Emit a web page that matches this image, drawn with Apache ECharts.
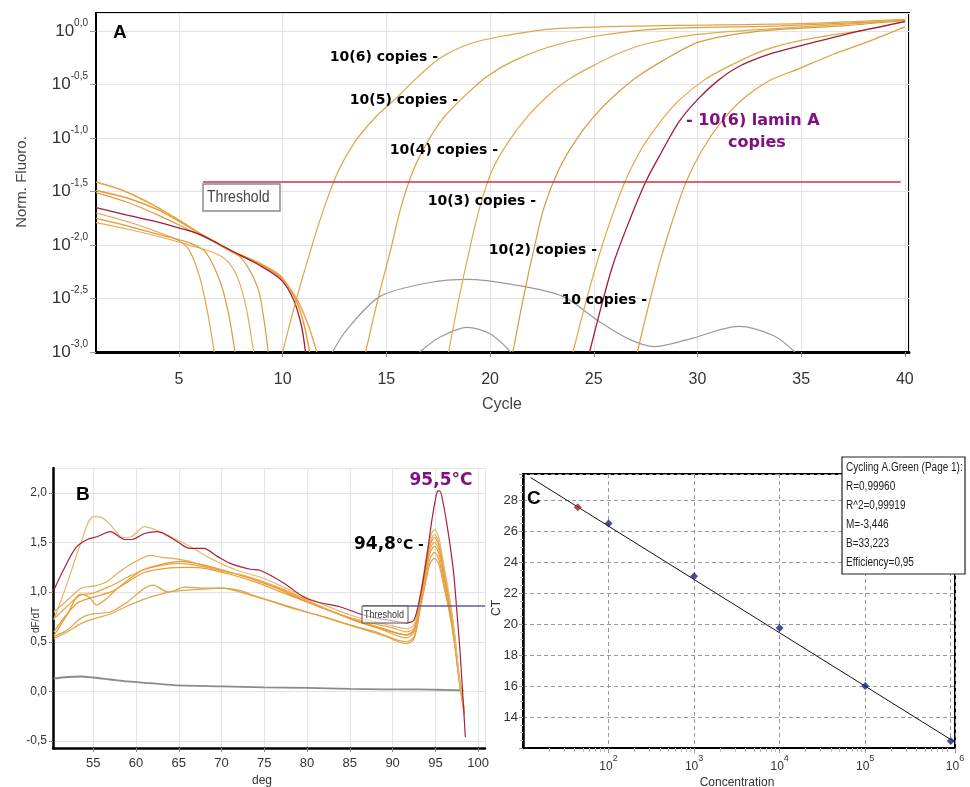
<!DOCTYPE html>
<html><head><meta charset="utf-8">
<script src="https://cdn.jsdelivr.net/npm/echarts@6/dist/echarts.min.js"></script>
<style>html,body{margin:0;padding:0;background:#fff}#c{width:970px;height:787px}</style>
</head><body><div id="c"></div>
<script>
// ===== Panel A: amplification curves, [cycle, log10(Norm. Fluoro.)] =====
const aAmp1e6 = [[10.0,-3.0],[10.6,-2.55],[11.3,-2.08],[12.0,-1.65],[12.7,-1.3],[13.5,-1.03],[14.5,-0.8],[15.5,-0.62],[16.5,-0.43],[17.6,-0.25],[19,-0.12],[20.5,-0.05],[22.9,0.02],[27.7,0.05],[34.9,0.07],[40,0.11]];
const aAmp1e5 = [[14.0,-3.0],[14.6,-2.5],[15.2,-2.05],[15.7,-1.65],[16.3,-1.3],[17.0,-1.03],[17.8,-0.8],[18.7,-0.62],[19.8,-0.43],[21.1,-0.28],[22.8,-0.15],[25,-0.05],[28,0.02],[34,0.05],[40,0.1]];
const aAmp1e4 = [[18.0,-3.0],[18.5,-2.5],[19.0,-2.05],[19.5,-1.65],[20.1,-1.3],[20.9,-1.03],[21.8,-0.8],[22.7,-0.62],[23.8,-0.45],[25.1,-0.31],[26.3,-0.2],[27.5,-0.12],[30,-0.03],[35,0.04],[40,0.1]];
const aAmp1e3 = [[21.1,-3.0],[21.6,-2.5],[22.1,-2.05],[22.6,-1.65],[23.3,-1.3],[24.1,-1.03],[25.0,-0.8],[25.9,-0.62],[27.0,-0.44],[28.3,-0.28],[30.1,-0.1],[33,0.0],[37,0.05],[40,0.1]];
const aAmp1e2 = [[24.0,-3.0],[24.5,-2.62],[25.1,-2.2],[25.7,-1.83],[26.5,-1.41],[27.3,-1.1],[28.2,-0.85],[29.1,-0.65],[30.3,-0.46],[31.6,-0.32],[33.2,-0.18],[34.9,-0.09],[38.3,0.02],[40,0.09]];
const aAmp1e1 = [[27.1,-3.0],[27.6,-2.6],[28.2,-2.15],[28.8,-1.77],[29.45,-1.41],[30.2,-1.12],[31.1,-0.86],[32.1,-0.65],[33.4,-0.47],[34.9,-0.35],[36.5,-0.22],[38.2,-0.1],[40,0.04]];
const aAmpLamin = [[24.8,-3.0],[25.3,-2.62],[25.9,-2.2],[26.6,-1.83],[27.5,-1.41],[28.3,-1.12],[29.1,-0.85],[30,-0.64],[31,-0.46],[32,-0.33],[33.4,-0.22],[34.9,-0.14],[37.8,0.0],[40,0.09]];
// early-cycle (baseline) parts of the same samples
const aBaseU1 = [[1,-1.41],[2.3,-1.49],[3.9,-1.64],[5.2,-1.79],[6,-1.89],[7.6,-2.07],[8.8,-2.17],[9.9,-2.3],[10.7,-2.51],[11.2,-2.73],[11.65,-3.0]];
const aBaseU2 = [[1,-1.49],[2.5,-1.56],[4,-1.67],[5.2,-1.8],[6,-1.89],[7.6,-2.06],[8.8,-2.16],[9.9,-2.29],[10.6,-2.5],[11,-2.72],[11.3,-3.0]];
const aBaseU3 = [[1,-1.51],[2.5,-1.6],[4,-1.72],[5.5,-1.86],[7,-2.0],[8,-2.12],[8.8,-2.4],[9.1,-2.7],[9.3,-3.0]];
const aBaseLamin = [[1,-1.65],[2.5,-1.72],[3.9,-1.78],[5,-1.84],[6,-1.9],[7.6,-2.06],[8.8,-2.18],[9.9,-2.32],[10.5,-2.5],[10.9,-2.75],[11.1,-3.0]];
const aBaseL1 = [[1,-1.70],[2.5,-1.78],[4,-1.88],[5,-1.96],[5.5,-2.05],[6,-2.3],[6.4,-2.65],[6.7,-3.0]];
const aBaseL2 = [[1,-1.75],[2.5,-1.82],[4,-1.9],[5.5,-1.98],[6.3,-2.07],[7,-2.35],[7.4,-2.65],[7.7,-3.0]];
const aBaseL3 = [[1,-1.79],[2.5,-1.85],[4,-1.92],[5.5,-2.0],[7,-2.1],[7.7,-2.25],[8.2,-2.55],[8.6,-3.0]];
// no-template controls
const aNtc1 = [[12.4,-3.0],[13.1,-2.79],[14.7,-2.48],[17.1,-2.35],[18.9,-2.32],[21.1,-2.37],[23.5,-2.48],[25.3,-2.72],[26.7,-2.88],[27.9,-2.95],[29.6,-2.88],[32,-2.76],[33.7,-2.85],[34.7,-3.0]];
const aNtc2 = [[16.6,-3.0],[17.6,-2.86],[18.9,-2.77],[20,-2.83],[21,-3.0]];
const aThreshold = [[6.16,-1.41],[39.8,-1.41]];

// ===== Panel B: melt curves, [temperature, dF/dT] =====
const bRed = [[50.4,1.02],[51.5,1.22],[53,1.45],[54.3,1.53],[55.5,1.56],[57,1.61],[58.7,1.53],[59.5,1.53],[61,1.59],[62.5,1.61],[64.8,1.51],[66.3,1.44],[67.9,1.44],[69.5,1.36],[71,1.29],[73.4,1.23],[74.5,1.22],[77.3,1.09],[79.6,0.95],[81.2,0.9],[83.9,0.85],[86.2,0.78],[88,0.74],[90,0.71],[91.7,0.69],[92.5,0.72],[93.2,0.95],[93.9,1.3],[94.6,1.73],[95.2,2.01],[95.5,2.02],[95.9,1.9],[96.5,1.6],[97.1,1.22],[97.5,0.82],[97.9,0.38],[98.5,-0.46]];
const bO1 = [[50.4,0.72],[52,1.1],[53.5,1.48],[55,1.76],[56,1.75],[57,1.68],[58.5,1.55],[59.5,1.56],[61,1.66],[62.2,1.63],[64,1.56],[66.3,1.46],[68.7,1.34],[71.8,1.22],[74.9,1.14],[78,1.02],[81.2,0.9],[85,0.77],[88,0.7],[90,0.66],[91.6,0.63],[92.5,0.67],[93.2,0.95],[93.9,1.33],[94.4,1.55],[94.9,1.63],[95.4,1.55],[96,1.27],[96.6,0.98],[97.2,0.62],[97.8,0.15],[98.4,-0.18]];
const bM1 = [[50.4,0.8],[52,0.92],[53.6,1.04],[55,1.06],[56.5,1.1],[58,1.2],[60,1.31],[61.7,1.37],[63,1.35],[64.3,1.34],[66.3,1.31],[69.5,1.22],[72.6,1.17],[75,1.1],[78,1.0],[81,0.88],[84,0.77],[87,0.7],[90,0.64],[91.6,0.6],[92.5,0.64],[93.2,0.93],[93.9,1.3],[94.4,1.51],[94.9,1.58],[95.4,1.5],[96,1.23],[96.6,0.95],[97.2,0.6],[97.8,0.14],[98.4,-0.19]];
const bM2 = [[50.4,0.56],[52,0.78],[53.5,0.98],[54.5,0.95],[55.4,0.87],[56.5,0.93],[58,1.05],[60,1.18],[61,1.23],[63,1.28],[65.2,1.31],[68.1,1.27],[71,1.2],[74,1.12],[77,1.02],[80,0.9],[83,0.8],[86,0.7],[89,0.62],[91.6,0.57],[92.5,0.62],[93.2,0.91],[93.9,1.27],[94.4,1.48],[94.9,1.55],[95.4,1.47],[96,1.2],[96.6,0.93],[97.2,0.58],[97.8,0.13],[98.4,-0.2]];
const bM3 = [[50.4,0.73],[52,0.86],[53.5,0.97],[55,0.99],[57,1.06],[59,1.15],[61,1.23],[63,1.27],[65,1.29],[67,1.27],[70,1.22],[73,1.15],[76,1.06],[79,0.95],[82,0.84],[85,0.74],[88,0.65],[91.6,0.54],[92.5,0.6],[93.2,0.89],[93.9,1.24],[94.4,1.44],[94.9,1.5],[95.4,1.43],[96,1.17],[96.6,0.9],[97.2,0.56],[97.8,0.12],[98.4,-0.21]];
const bM4 = [[50.4,0.6],[53,0.88],[55,0.95],[57,1.0],[59,1.1],[61,1.2],[63.5,1.24],[66,1.25],[68,1.24],[71,1.18],[74,1.1],[77,1.0],[80,0.9],[83,0.8],[86,0.71],[89,0.63],[91.6,0.57],[92.5,0.61],[93.2,0.88],[93.9,1.21],[94.4,1.4],[94.9,1.46],[95.4,1.39],[96,1.14],[96.6,0.88],[97.2,0.55],[97.8,0.11],[98.4,-0.22]];
const bL1 = [[50.4,0.55],[52,0.62],[53.6,0.74],[55,0.78],[57,0.8],[59,0.9],[61,1.04],[62,1.07],[63.8,1.0],[65.7,1.05],[68,1.04],[70,1.04],[73.4,0.97],[76,0.9],[79,0.82],[82,0.75],[85,0.67],[88,0.6],[91.6,0.5],[92.5,0.55],[93.2,0.84],[93.9,1.16],[94.4,1.34],[94.9,1.4],[95.4,1.33],[96,1.09],[96.6,0.84],[97.2,0.52],[97.8,0.1],[98.4,-0.23]];
const bL2 = [[50.4,0.53],[52,0.6],[53.5,0.68],[55,0.73],[57,0.78],[59,0.86],[61,0.93],[63.8,1.0],[66,1.02],[68,1.03],[70,1.04],[72,1.02],[74,0.96],[77,0.88],[80,0.8],[83,0.72],[86,0.64],[89,0.56],[91.6,0.48],[92.5,0.53],[93.2,0.81],[93.9,1.11],[94.4,1.29],[94.9,1.34],[95.4,1.28],[96,1.05],[96.6,0.81],[97.2,0.5],[97.8,0.09],[98.4,-0.24]];
const bNtc = [[50.4,0.13],[52,0.145],[53.5,0.15],[55,0.14],[57,0.12],[59,0.1],[62,0.08],[65,0.06],[70,0.05],[75,0.04],[80,0.035],[85,0.025],[90,0.02],[93,0.02],[96,0.015],[98.3,0.01]];
const bThreshold = [[86.5,0.86],[100.8,0.86]];

// ===== Panel C: standard curve, [log10(concentration), CT] =====
const cStandards = [[2,26.5],[3,23.1],[4,19.75],[5,16.0],[6,12.45]];
const cSample = [[1.64,27.55]];
const cSlopeM = -3.446;
const cInterceptB = 33.223;
const cFitRange = [1.09, 6.05];
const cStatsLines = ['Cycling A.Green (Page 1):','R=0,99960','R^2=0,99919','M=-3,446','B=33,223','Efficiency=0,95'];

const cFit = cFitRange.map(x => [x, cInterceptB + cSlopeM * x]);

const SANS = "'Liberation Sans', Arial, sans-serif";
const BOLD = "'DejaVu Sans', Verdana, sans-serif";
const comma = v => String(v).replace('.', ',');

function ln(data, color, xi, yi, w, z) {
  return {type:'line', data, xAxisIndex:xi, yAxisIndex:yi, symbol:'none', smooth:0.3,
    lineStyle:{color, width:w||1.2}, itemStyle:{color}, z:z||2, animation:false, silent:true};
}

const series = [
  ln(aNtc1,'#9a9a9a',0,0,1.2), ln(aNtc2,'#9a9a9a',0,0,1.2),
  ln(aBaseL1,'#e0a448',0,0), ln(aBaseL2,'#d99a40',0,0), ln(aBaseL3,'#e6ac55',0,0),
  ln(aBaseU3,'#dc9c3c',0,0), ln(aBaseU2,'#ee9a30',0,0,1.4), ln(aBaseU1,'#e8a040',0,0,1.4),
  ln(aBaseLamin,'#a01c3c',0,0,1.3),
  ln(aAmp1e6,'#e0a448',0,0), ln(aAmp1e5,'#dca040',0,0), ln(aAmp1e4,'#e2a84c',0,0),
  ln(aAmp1e3,'#d99a3c',0,0), ln(aAmp1e2,'#e6a444',0,0), ln(aAmp1e1,'#e0a040',0,0),
  ln(aAmpLamin,'#a01c3c',0,0,1.3),
  {type:'line', data:aThreshold, xAxisIndex:0, yAxisIndex:0, symbol:'none', lineStyle:{color:'#cc3344', width:1.6}, z:3, animation:false, silent:true},

  ln(bNtc,'#8a8a8a',1,1,1.8),
  ln(bL2,'#dea650',1,1), ln(bL1,'#e2a040',1,1), ln(bM4,'#ec9a2c',1,1), ln(bM3,'#e6a848',1,1),
  ln(bM2,'#f0962a',1,1), ln(bM1,'#e4aa55',1,1), ln(bO1,'#e6b870',1,1),
  ln(bRed,'#a8203c',1,1,1.2),
  {type:'line', data:bThreshold, xAxisIndex:1, yAxisIndex:1, symbol:'none', lineStyle:{color:'#5b5ba6', width:1.5}, z:3, animation:false, silent:true},

  {type:'line', data:cFit, xAxisIndex:2, yAxisIndex:2, symbol:'none', lineStyle:{color:'#111', width:1}, z:3, animation:false, silent:true},
  {type:'scatter', data:cStandards, xAxisIndex:2, yAxisIndex:2, symbol:'diamond', symbolSize:8, itemStyle:{color:'#1c2380'}, z:4, animation:false, silent:true},
  {type:'scatter', data:cSample, xAxisIndex:2, yAxisIndex:2, symbol:'diamond', symbolSize:8, itemStyle:{color:'#8b2c2c'}, z:4, animation:false, silent:true}
];

const cMinor = [];
for (let d = 1; d <= 6; d++) for (let k = 2; k <= 9; k++) { const v = d + Math.log10(k); if (v < 6.05) cMinor.push(v); }

const gridLine = {show:true, lineStyle:{color:'#e3e3e3', width:1}};
const tickGray = {show:true, length:5, lineStyle:{color:'#888'}};

const option = {
  backgroundColor:'#fff',
  animation:false,
  grid:[
    {left:96, top:13, width:813, height:339, show:true, borderColor:'#000', borderWidth:2, backgroundColor:'transparent'},
    {left:53, top:468, width:432, height:280},
    {left:523, top:474, width:432, height:274, show:true, borderColor:'#000', borderWidth:2, backgroundColor:'transparent'}
  ],
  xAxis:[
    {gridIndex:0, type:'value', min:1, max:40.2, splitNumber:8, minInterval:5, maxInterval:5,
      axisLine:{show:true, onZero:false, lineStyle:{color:'#000', width:3}}, axisTick:tickGray,
      axisLabel:{showMinLabel:false, showMaxLabel:false, fontSize:16, color:'#333', fontFamily:SANS, margin:20},
      splitLine:gridLine},
    {gridIndex:1, type:'value', min:50.3, max:100.8, splitNumber:10, minInterval:5, maxInterval:5,
      axisLine:{show:true, onZero:false, lineStyle:{color:'#000', width:2.5}}, axisTick:{show:true, length:4, lineStyle:{color:'#888'}},
      axisLabel:{showMinLabel:false, showMaxLabel:false, fontSize:13, color:'#333', fontFamily:SANS, margin:9},
      splitLine:gridLine},
    {gridIndex:2, type:'value', min:1, max:6.05, interval:1,
      axisLine:{show:true, onZero:false, lineStyle:{color:'#000', width:2}}, axisTick:{show:true, length:5, lineStyle:{color:'#999'}},
      axisLabel:{showMinLabel:false, showMaxLabel:true, margin:6, color:'#333',
        formatter: v => (v >= 2 ? '{b|10}{s|' + Math.round(v) + '}' : ''),
        rich:{b:{fontSize:12, fontFamily:SANS, color:'#333', lineHeight:26, verticalAlign:'middle'}, s:{fontSize:9, fontFamily:SANS, color:'#333', lineHeight:10, verticalAlign:'top'}}},
      splitLine:{show:true, lineStyle:{color:'#999', type:[4,3], width:1}}},
    {gridIndex:2, type:'value', min:1, max:6.05, position:'bottom',
      axisLine:{show:false}, axisLabel:{show:false}, splitLine:{show:false},
      axisTick:{show:true, length:4, customValues:cMinor, lineStyle:{color:'#bbb'}}}
  ],
  yAxis:[
    {gridIndex:0, type:'value', min:-3, max:0.17, interval:0.5,
      axisLine:{show:true, onZero:false, lineStyle:{color:'#000', width:2}}, axisTick:{show:true, length:6, lineStyle:{color:'#999'}},
      axisLabel:{showMaxLabel:false, margin:8, color:'#333',
        formatter: v => '{b|10}{s|' + comma(v.toFixed(1)) + '}',
        rich:{b:{fontSize:17, fontFamily:SANS, color:'#333', lineHeight:26, verticalAlign:'middle'}, s:{fontSize:10, fontFamily:SANS, color:'#333', lineHeight:10, verticalAlign:'top'}}},
      splitLine:gridLine},
    {gridIndex:1, type:'value', min:-0.57, max:2.25, splitNumber:6, minInterval:0.5, maxInterval:0.5,
      axisLine:{show:true, onZero:false, lineStyle:{color:'#000', width:2.5}}, axisTick:{show:true, length:4, lineStyle:{color:'#888'}},
      axisLabel:{showMinLabel:false, showMaxLabel:false, margin:6, fontSize:12, color:'#333', fontFamily:SANS,
        formatter: v => comma(v.toFixed(1))},
      splitLine:gridLine},
    {gridIndex:2, type:'value', min:12, max:29.7, interval:2,
      axisLine:{show:true, onZero:false, lineStyle:{color:'#000', width:2.5}}, axisTick:{show:true, length:4, lineStyle:{color:'#999'}},
      minorTick:{show:true, splitNumber:4, length:3, lineStyle:{color:'#bbb'}},
      axisLabel:{showMinLabel:false, showMaxLabel:false, margin:5, fontSize:13, color:'#333', fontFamily:SANS},
      splitLine:{show:true, lineStyle:{color:'#999', type:[4,3], width:1}}}
  ],
  series,
  graphic:[]
};

function txt(x, y, text, o) {
  o = o || {};
  return {type:'text', x, y, z:100, rotation:o.rot||0, scaleX:o.sx||1, style:{text, fill:o.fill||'#000', fontSize:o.size||14,
    fontWeight:o.weight||'normal', fontFamily:o.family||SANS, align:o.align||'left', verticalAlign:'middle'}};
}
const g = option.graphic;
// panel letters
g.push(txt(113, 33, 'A', {size:19, weight:'bold'}));
g.push(txt(76, 495, 'B', {size:19, weight:'bold'}));
g.push(txt(527, 499, 'C', {size:19, weight:'bold'}));
// panel A annotations
const copyLabels = [['10(6) copies -',438,57],['10(5) copies -',458,100],['10(4) copies -',498,150],['10(3) copies -',536,201],['10(2) copies -',597,250],['10 copies -',647,300]];
copyLabels.forEach(c => g.push(txt(c[1], c[2], c[0], {size:14, weight:'bold', family:BOLD, align:'right'})));
g.push(txt(686, 121, '- 10(6) lamin A', {size:16, weight:'bold', family:BOLD, fill:'#80107e'}));
g.push(txt(757, 143, 'copies', {size:16, weight:'bold', family:BOLD, fill:'#80107e', align:'center'}));
g.push({type:'rect', z:99, shape:{x:203, y:184, width:77, height:27}, style:{fill:'#fff', stroke:'#8a8a8a', lineWidth:1.5}});
g.push(txt(207, 198, 'Threshold', {size:16, fill:'#444', sx:0.88}));
g.push(txt(22, 182, 'Norm. Fluoro.', {size:15, fill:'#444', align:'center', rot:Math.PI/2}));
g.push(txt(502, 405, 'Cycle', {size:16, fill:'#444', align:'center'}));
// panel B annotations
g.push(txt(441, 481, '95,5°C', {size:17, weight:'bold', family:BOLD, fill:'#80107e', align:'center'}));
g.push({type:'text', x:354, y:545, z:100, style:{text:'{a|94,8}{b|°C -}', verticalAlign:'middle',
  rich:{a:{fontSize:17, fontWeight:'bold', fontFamily:BOLD, fill:'#000'}, b:{fontSize:14, fontWeight:'bold', fontFamily:BOLD, fill:'#000'}}}});
g.push({type:'rect', z:99, shape:{x:362, y:606, width:46, height:17}, style:{fill:'rgba(255,255,255,0.6)', stroke:'#555', lineWidth:1}});
g.push(txt(364, 615, 'Threshold', {size:11, fill:'#333', sx:0.82}));
g.push(txt(36, 620, 'dF/dT', {size:10, fill:'#333', align:'center', rot:Math.PI/2}));
g.push(txt(262, 781, 'deg', {size:12, fill:'#333', align:'center'}));
// panel C annotations
g.push(txt(497, 608, 'CT', {size:12, fill:'#333', align:'center', rot:Math.PI/2}));
g.push(txt(737, 783, 'Concentration', {size:12, fill:'#333', align:'center'}));
g.push({type:'rect', z:99, shape:{x:842, y:457, width:123, height:117}, style:{fill:'#fff', stroke:'#222', lineWidth:1.2}});
cStatsLines.forEach((s, i) => g.push(txt(846, 468 + i * 19, s, {size:12.5, fill:'#222', sx:0.8})));

const chart = echarts.init(document.getElementById('c'), null, {renderer:'canvas'});
chart.setOption(option);
</script></body></html>
